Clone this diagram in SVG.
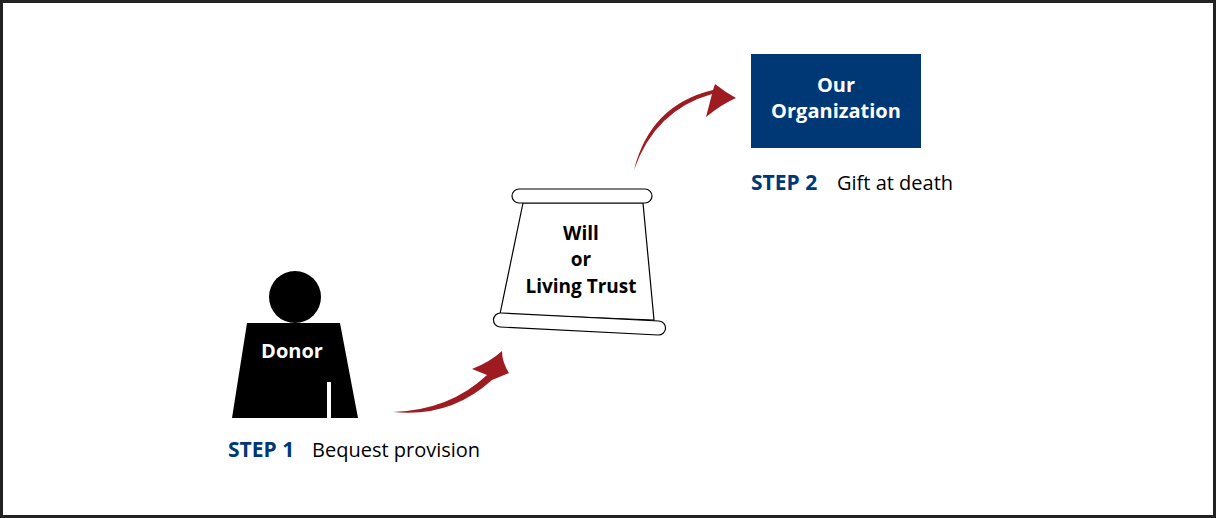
<svg xmlns="http://www.w3.org/2000/svg" width="1216" height="518" viewBox="0 0 1216 518">
<style>
.t{font-family:"Open Sans","Liberation Sans",sans-serif;font-weight:bold}
.step{font-family:"Open Sans","Liberation Sans",sans-serif;font-size:21px;fill:#003876;font-weight:bold}
.lbl{font-family:"Open Sans","Liberation Sans",sans-serif;font-size:20px;fill:#000}
.arr{fill:#9e1b22}
.roll{fill:#fff;stroke:#000;stroke-width:1.2}
</style>
<rect x="1.5" y="1.5" width="1213" height="515" fill="#fff" stroke="#222" stroke-width="3"/>
<g id="donor">
<circle cx="295" cy="297" r="26" fill="#000"/>
<path d="M247 323 L340 323 L358 418 L331 418 L331 382 L327 382 L327 418 L258 418 L258 382 L262 382 L262 418 L232 418 Z" fill="#000"/>
<path d="M249 418 L258 382 L258 418 Z M331 382 L339 418 L331 418 Z" fill="#000"/>
<text x="292" y="358" text-anchor="middle" class="t" font-size="20" fill="#fff">Donor</text>
</g>
<g id="will">
<path d="M523 203 L500 314 L654 320 L643 203 Z" fill="#fff" stroke="#000" stroke-width="1.2"/>
<rect x="512" y="189" width="140" height="14" rx="7" class="roll"/>
<path d="M501 313 L659 321 A7 7 0 0 1 658 335 L500 327 A7 7 0 0 1 501 313 Z" class="roll"/>
<text x="581" y="240" text-anchor="middle" class="t" font-size="19">Will</text>
<text x="581" y="266" text-anchor="middle" class="t" font-size="19">or</text>
<text x="581" y="293" text-anchor="middle" class="t" font-size="19">Living Trust</text>
</g>
<g id="org">
<rect x="751" y="54" width="170" height="94" fill="#003876"/>
<text x="836" y="92" text-anchor="middle" class="t" font-size="20" fill="#fff">Our</text>
<text x="836" y="118" text-anchor="middle" class="t" font-size="20" fill="#fff">Organization</text>
</g>
<g id="step1">
<text x="228" y="457" class="step">STEP 1</text>
<text x="312" y="457" class="lbl">Bequest provision</text>
</g>
<g id="step2">
<text x="751" y="190" class="step">STEP 2</text>
<text x="837" y="190" class="lbl">Gift at death</text>
</g>
<g id="connectors">
<path class="arr" d="M393 412 Q450 410 487 375 L472 369 Q490 362 502 351 Q502 362 509 373 L492 380 Q450 418 393 412 Z"/>
<path class="arr" d="M634 170 Q655 110 712 94 L706 117 Q722 104 736 98 Q725 92 715 84 L713 90 Q650 105 634 170 Z"/>
</g>
</svg>
